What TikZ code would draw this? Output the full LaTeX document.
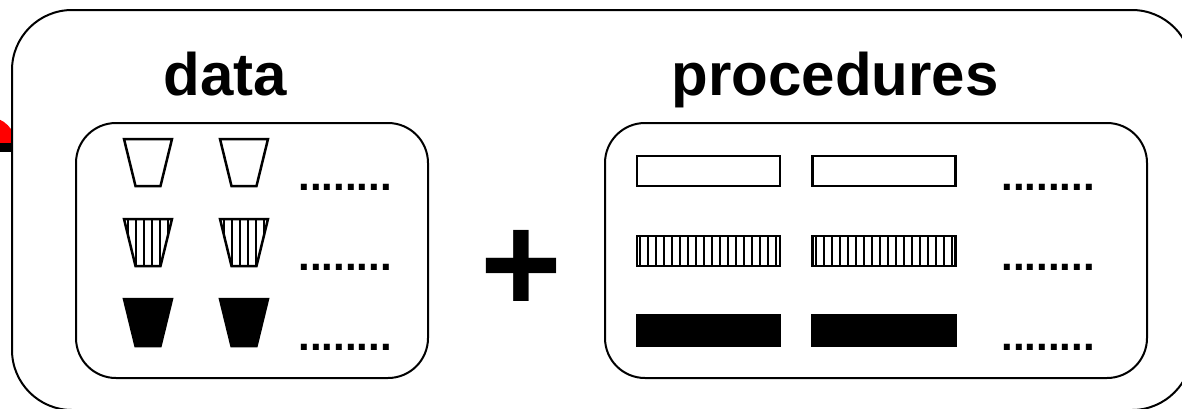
\documentclass[tikz,border=0pt]{standalone}
\usepackage{fontspec}
\setmainfont{Liberation Sans}
\usetikzlibrary{patterns.meta}
\definecolor{capred}{RGB}{255,0,0}

\begin{document}
\begin{tikzpicture}[x=1pt, y=-1pt,
    frame/.style={rectangle, draw, line width=2pt, inner sep=0pt},
    cup/.pic={\draw[pic actions, line width=2.5pt]
                (-24,-23.5) -- (24,-23.5) -- (12.5,23.5) -- (-12.5,23.5) -- cycle;},
    bar/.style={rectangle, draw, line width=2.5pt, minimum width=143pt,
                minimum height=30pt, inner sep=0pt},
    hatch/.style={pattern={Lines[angle=90, distance=8pt, line width=1.6pt]}},
    title/.style={font=\fontsize{60}{60}\selectfont\bfseries, anchor=base},
    more/.style={font=\fontsize{42}{42}\selectfont\bfseries, anchor=base}
]
    \useasboundingbox (0,0) rectangle (1182,408);
    \clip (0,0) rectangle (1182,408);

    % piece sticking out at the left edge
    \begin{scope}
        \clip (-40,100) rectangle (12,143);
        \fill[capred] (-12,145) circle (28);
    \end{scope}
    \fill[black] (-20,143) rectangle (12,152);

    % frames
    \node[frame, rounded corners=60pt, minimum width=1180pt, minimum height=400pt] (whole) at (602,210) {};
    \node[frame, rounded corners=40pt, minimum width=352pt, minimum height=255pt] (databox) at (252,250.5) {};
    \node[frame, rounded corners=40pt, minimum width=542pt, minimum height=255pt] (procbox) at (876,250.5) {};

    \node[title] (datatitle) at (225.5,95) {data};
    \node[title] (proctitle) at (835,95) {procedures};
    \node[font=\fontsize{140}{140}\selectfont\bfseries, anchor=base] (plus) at (521.5,312) {+};

    % data
    \pic (d11) at (148,162.5) {cup};
    \pic (d12) at (244,162.5) {cup};
    \pic[hatch] (d21) at (148,242.5) {cup};
    \pic[hatch] (d22) at (244,242.5) {cup};
    \pic[fill=black] (d31) at (148,322.5) {cup};
    \pic[fill=black] (d32) at (244,322.5) {cup};
    \node[more] (dmore1) at (345,190) {........};
    \node[more] (dmore2) at (345,270) {........};
    \node[more] (dmore3) at (345,350) {........};

    % procedures
    \node[bar] (p11) at (708.5,171) {};
    \node[bar] (p12) at (884,171) {};
    \node[bar, hatch] (p21) at (708.5,251) {};
    \node[bar, hatch] (p22) at (884,251) {};
    \node[bar, fill=black] (p31) at (708.5,330.5) {};
    \node[bar, fill=black] (p32) at (884,330.5) {};
    \node[more] (pmore1) at (1048,190) {........};
    \node[more] (pmore2) at (1048,270) {........};
    \node[more] (pmore3) at (1048,350) {........};
\end{tikzpicture}
\end{document}
